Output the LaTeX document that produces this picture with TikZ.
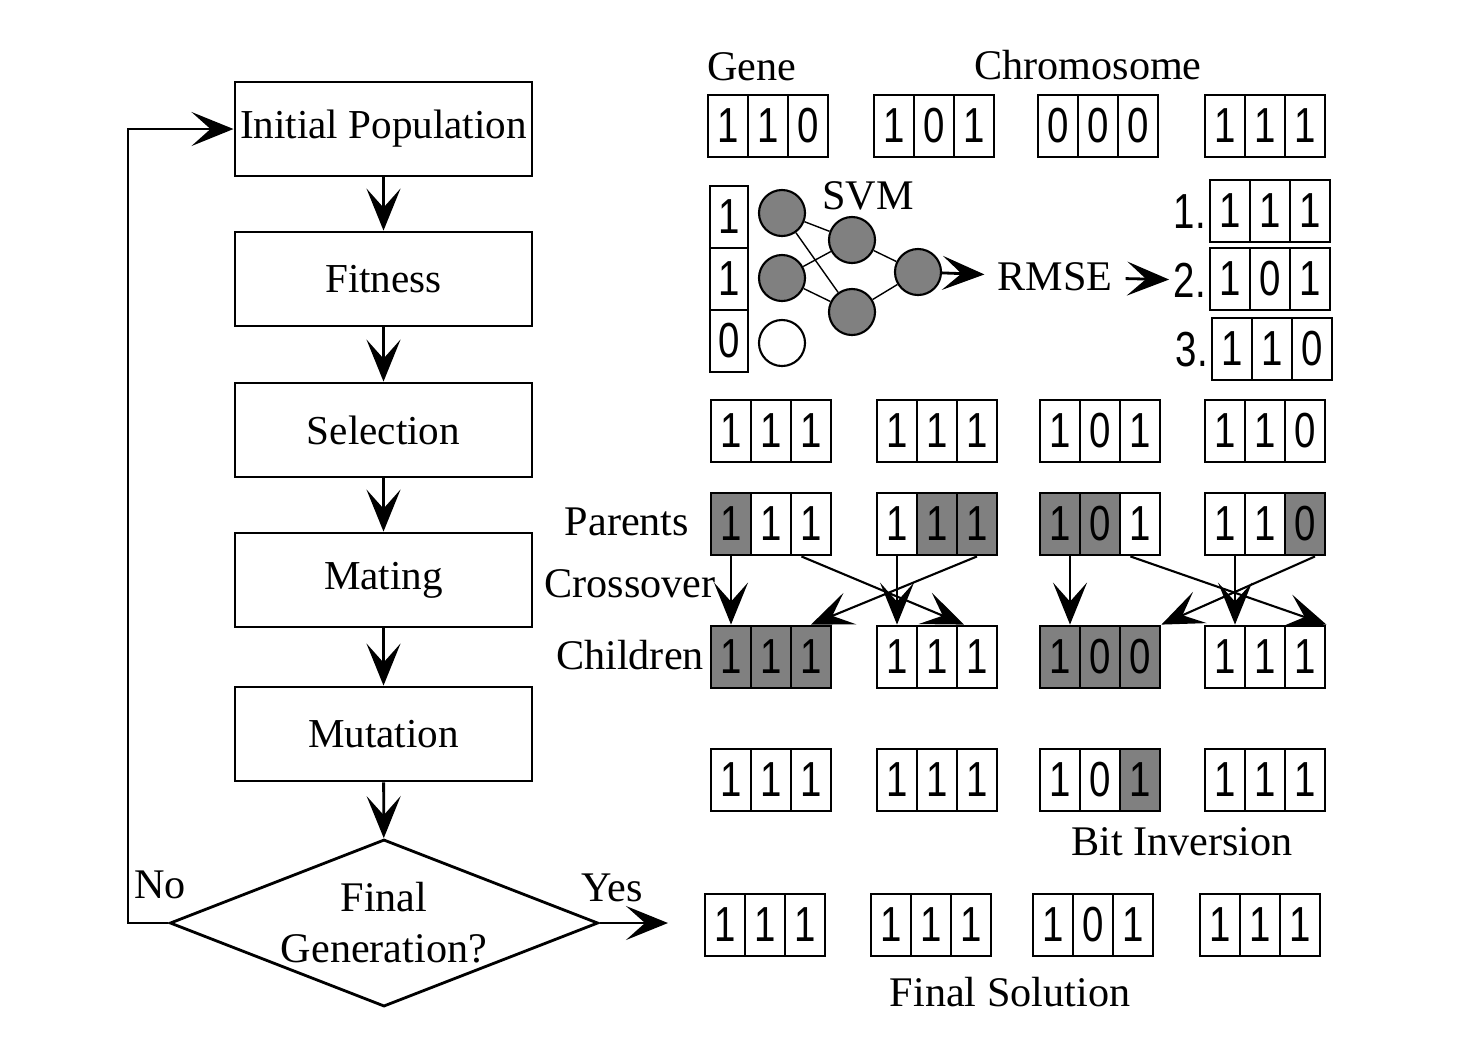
\documentclass[tikz,border=0pt]{standalone}
\usepackage{fontspec}
\setmainfont{Liberation Serif}
\newfontfamily\digitfont[FakeStretch=0.78]{Liberation Sans}
\usetikzlibrary{arrows.meta, shapes.geometric}
\definecolor{cellgray}{RGB}{128,128,128}

% three cells of one chromosome: name, left x, centre y, digits, cell styles
\newcommand{\chrom}[9]{%
  \node[#7] (#11) at (#2+20,#3) {#4};
  \node[#8] (#12) at (#2+60,#3) {#5};
  \node[#9] (#13) at (#2+100,#3) {#6};
}

\begin{document}
\begin{tikzpicture}[x=0.01cm, y=-0.01cm, line width=0.8pt,
        font=\fontsize{12}{14.5}\selectfont,
        arr/.style={-{Stealth[length=4.2mm,width=3.4mm,inset=1.9mm]}},
        stage/.style={rectangle, draw, inner sep=1pt, minimum width=2.97cm, minimum height=0.94cm, font=\fontsize{11.7}{14}\selectfont},
        decision/.style={diamond, draw, aspect=2.56, minimum width=4.28cm, minimum height=1.67cm, inner sep=0pt, align=center},
        cell/.style={rectangle, draw, minimum width=0.4cm, minimum height=0.62cm, inner sep=0pt, font=\digitfont\fontsize{14}{14}\selectfont},
        shaded/.style={cell, fill=cellgray},
        rank/.style={inner sep=1pt, font=\digitfont\fontsize{14}{14}\selectfont},
        neuron/.style={circle, draw, line width=0.6pt, minimum size=0.46cm, inner sep=0pt, fill=cellgray},
        link/.style={line width=0.4pt},
        cross/.style={arr, line width=0.6pt}]
        \useasboundingbox (0,0) rectangle (1484,1050);

        % flow chart
        \node[stage] (init) at (383.5,129) {Initial Population};
        \node[stage] (fit)  at (383.5,279) {Fitness};
        \node[stage] (sel)  at (383.5,430) {Selection};
        \node[stage] (mate) at (383.5,580) {Mating};
        \node[stage] (mut)  at (383.5,734) {Mutation};
        \node[decision] (final) at (384,923) {Final\\Generation?};

        \coordinate (back) at (128,923);
        \coordinate (done) at (668,923);
        \node at (160,885) (no) {No};
        \node at (612,888) (yes) {Yes};

        \draw[arr] (init) -- (fit);
        \draw[arr] (fit) -- (sel);
        \draw[arr] (sel) -- (mate);
        \draw[arr] (mate) -- (mut);
        \draw[arr] (mut) -- (final);
        \draw[arr] (final.west) -- (back) |- (init.west);
        \draw[arr] (final.east) -- (done);

        % initial population
        \node at (752,67) (gene) {Gene};
        \node at (1088,65) (chromosome) {Chromosome};
        \chrom{a1}{708}{126}{1}{1}{0}{cell}{cell}{cell}
        \chrom{a2}{874}{126}{1}{0}{1}{cell}{cell}{cell}
        \chrom{a3}{1038}{126}{0}{0}{0}{cell}{cell}{cell}
        \chrom{a4}{1205}{126}{1}{1}{1}{cell}{cell}{cell}

        % fitness
        \node[cell, minimum width=0.38cm] (g1) at (729,217) {1};
        \node[cell, minimum width=0.38cm] (g2) at (729,279) {1};
        \node[cell, minimum width=0.38cm] (g3) at (729,341) {0};
        \node[neuron] (in1) at (782,213) {};
        \node[neuron] (in2) at (782,278) {};
        \node[neuron, fill=white] (in3) at (782,343) {};
        \node[neuron] (h1) at (852,240) {};
        \node[neuron] (h2) at (852,312) {};
        \node[neuron] (out) at (918,272) {};
        \node at (868,196) (svm) {SVM};
        \node at (1055,277) (rmse) {RMSE};
        \node[rank] at (1190,212) (rk1) {1.};
        \node[rank] at (1190,280) (rk2) {2.};
        \node[rank] at (1192,350) (rk3) {3.};
        \chrom{k1}{1210}{211}{1}{1}{1}{cell}{cell}{cell}
        \chrom{k2}{1210}{279}{1}{0}{1}{cell}{cell}{cell}
        \chrom{k3}{1212}{349}{1}{1}{0}{cell}{cell}{cell}

        \draw[link] (in1) -- (h1)  (in1) -- (h2)
                    (in2) -- (h1)  (in2) -- (h2)
                    (h1) -- (out)  (h2) -- (out);
        \draw[arr] (out) -- (rmse);
        \draw[arr] (rmse) -- (rk2);

        % selection
        \chrom{s1}{711}{431}{1}{1}{1}{cell}{cell}{cell}
        \chrom{s2}{877}{431}{1}{1}{1}{cell}{cell}{cell}
        \chrom{s3}{1040}{431}{1}{0}{1}{cell}{cell}{cell}
        \chrom{s4}{1205}{431}{1}{1}{0}{cell}{cell}{cell}

        % mating
        \node at (627,522) (parents) {Parents};
        \node at (630,584) (crossover) {Crossover};
        \node at (630,655) (children) {Children};
        \chrom{p1}{711}{524}{1}{1}{1}{shaded}{cell}{cell}
        \chrom{p2}{877}{524}{1}{1}{1}{cell}{shaded}{shaded}
        \chrom{p3}{1040}{524}{1}{0}{1}{shaded}{shaded}{cell}
        \chrom{p4}{1205}{524}{1}{1}{0}{cell}{cell}{shaded}
        \chrom{c1}{711}{657}{1}{1}{1}{shaded}{shaded}{shaded}
        \chrom{c2}{877}{657}{1}{1}{1}{cell}{cell}{cell}
        \chrom{c3}{1040}{657}{1}{0}{0}{shaded}{shaded}{shaded}
        \chrom{c4}{1205}{657}{1}{1}{1}{cell}{cell}{cell}

        \draw[cross] (p11.south) -- (c11.north);
        \draw[cross] ([xshift=0.9mm]p12.south east) -- ([xshift=-1.3mm]c23.north);
        \draw[cross] (p21.south) -- (c21.north);
        \draw[cross] (p23.south) -- (c13.north);
        \draw[cross] ([xshift=1mm]p31.south) -- ([xshift=1mm]c31.north);
        \draw[cross] ([xshift=0.9mm]p32.south east) -- (c43.north east);
        \draw[cross] ([xshift=1mm]p41.south) -- ([xshift=1mm]c41.north);
        \draw[cross] ([xshift=1mm]p43.south) -- (c33.north east);

        % mutation
        \chrom{m1}{711}{780}{1}{1}{1}{cell}{cell}{cell}
        \chrom{m2}{877}{780}{1}{1}{1}{cell}{cell}{cell}
        \chrom{m3}{1040}{780}{1}{0}{1}{cell}{cell}{shaded}
        \chrom{m4}{1205}{780}{1}{1}{1}{cell}{cell}{cell}
        \node at (1182,842) (bitinv) {Bit Inversion};

        % final solution
        \chrom{f1}{705}{925}{1}{1}{1}{cell}{cell}{cell}
        \chrom{f2}{871}{925}{1}{1}{1}{cell}{cell}{cell}
        \chrom{f3}{1033}{925}{1}{0}{1}{cell}{cell}{cell}
        \chrom{f4}{1200}{925}{1}{1}{1}{cell}{cell}{cell}
        \node at (1010,992) (finalsol) {Final Solution};
\end{tikzpicture}
\end{document}
